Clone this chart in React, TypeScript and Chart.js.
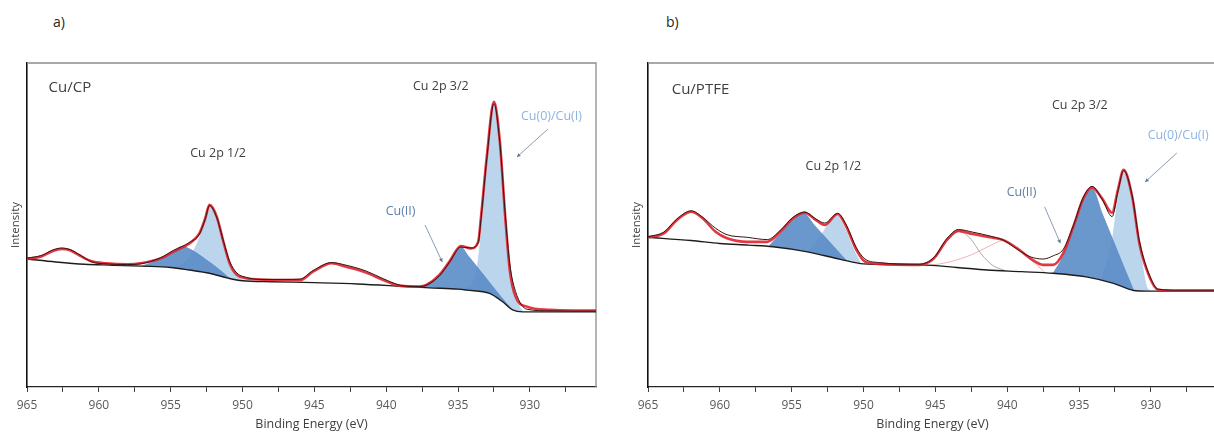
import React, { useEffect, useRef } from "react";
import { Chart, registerables } from "chart.js";

Chart.register(...registerables);

// ---------- axis ----------
const energyMin = 925.4;
const energyMax = 965;
const xTickValues = [965, 962.5, 960, 957.5, 955, 952.5, 950, 947.5, 945, 942.5, 940, 937.5, 935, 932.5, 930, 927.5];
const majorTickStep = 5;

// ---------- panel a: Cu/CP ----------
const cpEnvX = [965, 964, 963.2, 962.6, 962, 961.3, 960.5, 959.5, 958, 957.1, 955.7, 954.8, 953.7, 953.0, 952.6, 952.3, 951.8, 951.3, 950.9, 950.4, 949.7, 948.8, 947, 946, 945.1, 943.8, 942.8, 941.4, 940.2, 939.0, 937.7, 937.2, 936.3, 935.6, 934.8, 934.1, 933.6, 933.4, 933.0, 932.5, 932.1, 931.7, 931.4, 931.0, 930.2, 928.6, 927, 925.4];
const cpEnvelope = [39.5, 40.3, 42.0, 42.6, 42.2, 40.5, 38.8, 38.2, 37.9, 38.2, 39.7, 41.8, 44.3, 47.4, 52.0, 56.2, 52.6, 44.3, 38.2, 34.6, 33.5, 33.2, 33.0, 33.0, 35.6, 38.2, 37.1, 35.3, 33.0, 31.2, 31.0, 31.5, 34.6, 38.7, 43.5, 42.8, 44.8, 52.6, 71.1, 88.0, 76.2, 51.5, 36.1, 27.9, 24.8, 23.8, 23.6, 23.6];
const cpMeasured = [39.8, 40.6, 42.3, 42.9, 42.4, 40.7, 38.6, 38.0, 37.8, 38.0, 39.9, 42.2, 44.6, 47.2, 51.8, 56.0, 52.4, 44.6, 38.8, 35.2, 33.8, 33.2, 33.2, 33.3, 35.9, 38.4, 37.6, 35.8, 33.4, 31.4, 31.0, 31.4, 34.3, 38.5, 43.2, 42.9, 44.5, 52.0, 70.5, 87.5, 75.8, 52.5, 38.0, 29.5, 24.0, 23.5, 23.4, 23.4];
const cpBgX = [965, 963, 961, 959, 957, 955, 953.7, 952.3, 951, 950, 948, 945, 942, 939, 937, 935, 934.4, 932.8, 931.9, 931.2, 930.5, 928, 925.4];
const cpBackground = [39.5, 38.6, 37.9, 37.6, 37.3, 36.9, 36.1, 35.1, 33.6, 32.8, 32.5, 32.2, 31.8, 31.1, 30.6, 30.2, 29.9, 28.9, 26.3, 23.8, 23.2, 23.2, 23.2];
const cpCu2_12X = [957.0, 955.7, 954.8, 954.2, 953.6, 952.6, 951.6, 950.9];
const cpCu2_12 = [37.3, 39.6, 41.8, 43.4, 42.4, 39.5, 36.2, 33.5];
const cpCu0_12X = [954.6, 953.7, 953.0, 952.6, 952.3, 951.8, 951.3, 950.9, 950.4, 949.9];
const cpCu0_12 = [36.6, 40.0, 46.0, 51.5, 55.8, 52.0, 44.0, 37.8, 34.2, 32.8];
const cpCu2_32X = [937.6, 936.3, 935.6, 934.8, 934.3, 933.5, 932.8, 932.0, 931.3];
const cpCu2_32 = [30.7, 34.4, 38.5, 43.2, 40.5, 36.1, 32.2, 27.8, 24.2];
const cpCu0_32X = [934.6, 933.8, 933.4, 933.0, 932.5, 932.1, 931.7, 931.4, 931.0, 930.5];
const cpCu0_32 = [30.0, 34.0, 47.0, 68.0, 87.0, 75.5, 51.0, 36.0, 27.5, 23.2];

// ---------- panel b: Cu/PTFE ----------
const ptEnvX = [965, 963.9, 963.0, 962.0, 961.2, 960.3, 959.5, 958.1, 956.7, 955.8, 954.9, 954.1, 953.3, 952.7, 951.8, 951.2, 950.5, 949.9, 948.9, 946.1, 945.1, 944.2, 943.4, 942.4, 941.2, 940.3, 939.3, 938.4, 937.5, 936.8, 936.1, 935.4, 934.7, 934.1, 933.4, 932.7, 932.3, 931.9, 931.3, 930.8, 930.1, 929.5, 928, 925.4];
const ptEnvelope = [46.2, 47.4, 51.5, 54.1, 52.1, 47.9, 45.9, 44.8, 44.8, 47.9, 52.1, 53.8, 51.5, 50.0, 53.4, 49.5, 42.3, 38.7, 38.0, 37.7, 39.7, 45.4, 48.2, 47.2, 46.2, 45.4, 42.8, 39.7, 37.7, 37.7, 41.3, 49.5, 58.2, 61.6, 58.2, 53.8, 60.8, 67.0, 58.7, 44.3, 34.0, 30.0, 29.7, 29.7];
const ptMeasured = [46.4, 47.8, 51.8, 54.4, 52.4, 49.0, 47.0, 46.2, 45.5, 48.3, 52.4, 54.0, 51.8, 50.6, 53.6, 50.0, 43.0, 39.5, 38.4, 37.9, 40.0, 45.8, 48.6, 47.8, 46.6, 45.4, 42.5, 40.2, 39.5, 40.5, 42.5, 49.8, 58.6, 61.9, 58.0, 52.6, 60.2, 66.8, 59.0, 45.0, 34.5, 30.2, 29.9, 29.9];
const ptBgX = [965, 962, 960, 958, 956.3, 954.0, 951.6, 950.0, 948, 946, 943.5, 941.4, 939, 936.8, 934.5, 932.6, 931.2, 930.3, 928, 925.4];
const ptBackground = [46.2, 45.2, 44.3, 43.8, 43.3, 41.8, 39.4, 38.0, 37.8, 37.7, 36.9, 36.1, 35.6, 35.1, 34.0, 32.0, 29.8, 29.6, 29.6, 29.6];
const ptCu2_12X = [956.6, 955.8, 954.9, 954.2, 953.4, 952.6, 951.8, 951.2];
const ptCu2_12 = [43.4, 47.3, 51.8, 53.6, 49.8, 45.9, 42.0, 39.1];
const ptCu0_12X = [953.9, 953.2, 952.5, 951.9, 951.3, 950.7, 950.2];
const ptCu0_12 = [41.8, 45.0, 50.0, 53.2, 49.0, 42.5, 38.2];
const ptCu2_32X = [936.8, 936.1, 935.4, 934.7, 934.1, 933.4, 932.6, 931.9, 931.2];
const ptCu2_32 = [35.1, 40.5, 49.0, 57.8, 61.2, 53.6, 44.9, 37.3, 29.8];
const ptCu0_32X = [933.4, 932.7, 932.3, 931.9, 931.3, 930.8, 930.3, 930.0];
const ptCu0_32 = [33.5, 45.0, 58.0, 66.6, 58.3, 44.0, 31.0, 29.6];
const ptSat1X = [946.2, 945.1, 944.2, 943.4, 942.6, 941.8, 941.0, 940.2];
const ptSat1 = [37.7, 39.6, 45.0, 48.0, 46.0, 41.0, 37.5, 36.0];
const ptSat2X = [945.6, 944.0, 942.5, 941.2, 940.3, 939.3, 938.4, 937.4];
const ptSat2 = [37.4, 38.6, 40.8, 43.6, 45.2, 42.6, 39.4, 35.5];

// ---------- styles ----------
const FONT = "'Open Sans', 'DejaVu Sans', sans-serif";
const DARK_FILL = "rgba(86,138,197,0.88)";
const LIGHT_FILL = "rgba(180,208,235,0.9)";
const LABEL_GREY = "#404040";
const CU0_TEXT = "#8db4e0";
const CU2_TEXT = "#5b7fa8";
const ARROW = "#8a9cb2";

const pts = (xs: number[], ys: number[]) => xs.map((x, i) => ({ x, y: ys[i] }));

type Note = { text: string; e: number; i: number; color: string; size: number; align: CanvasTextAlign };
type Arrow = { e1: number; i1: number; e2: number; i2: number };

const panelA = {
  env: pts(cpEnvX, cpEnvelope),
  meas: pts(cpEnvX, cpMeasured),
  bg: pts(cpBgX, cpBackground),
  sats: [] as { data: { x: number; y: number }[]; color: string }[],
  dark: [pts(cpCu2_12X, cpCu2_12), pts(cpCu2_32X, cpCu2_32)],
  light: [pts(cpCu0_12X, cpCu0_12), pts(cpCu0_32X, cpCu0_32)],
  notes: [
    { text: "Cu/CP", e: 963.5, i: 92.3, color: LABEL_GREY, size: 15, align: "left" },
    { text: "Cu 2p 1/2", e: 951.7, i: 72.2, color: LABEL_GREY, size: 12.5, align: "center" },
    { text: "Cu 2p 3/2", e: 936.2, i: 92.9, color: LABEL_GREY, size: 12.5, align: "center" },
    { text: "Cu(0)/Cu(I)", e: 928.5, i: 83.6, color: CU0_TEXT, size: 12.5, align: "center" },
    { text: "Cu(II)", e: 939.0, i: 54.3, color: CU2_TEXT, size: 12.5, align: "center" },
  ] as Note[],
  arrows: [
    { e1: 928.75, i1: 79.6, e2: 930.9, i2: 71.0 },
    { e1: 937.3, i1: 50.0, e2: 936.1, i2: 38.6 },
  ] as Arrow[],
};

const panelB = {
  env: pts(ptEnvX, ptEnvelope),
  meas: pts(ptEnvX, ptMeasured),
  bg: pts(ptBgX, ptBackground),
  sats: [
    { data: pts(ptSat1X, ptSat1), color: "rgba(150,150,150,0.8)" },
    { data: pts(ptSat2X, ptSat2), color: "rgba(235,160,160,0.8)" },
  ],
  dark: [pts(ptCu2_12X, ptCu2_12), pts(ptCu2_32X, ptCu2_32)],
  light: [pts(ptCu0_12X, ptCu0_12), pts(ptCu0_32X, ptCu0_32)],
  notes: [
    { text: "Cu/PTFE", e: 963.35, i: 91.7, color: LABEL_GREY, size: 15, align: "left" },
    { text: "Cu 2p 1/2", e: 952.1, i: 68.2, color: LABEL_GREY, size: 12.5, align: "center" },
    { text: "Cu 2p 3/2", e: 934.95, i: 87.0, color: LABEL_GREY, size: 12.5, align: "center" },
    { text: "Cu(0)/Cu(I)", e: 928.1, i: 77.5, color: CU0_TEXT, size: 12.5, align: "center" },
    { text: "Cu(II)", e: 939.0, i: 59.9, color: CU2_TEXT, size: 12.5, align: "center" },
  ] as Note[],
  arrows: [
    { e1: 928.2, i1: 72.2, e2: 930.4, i2: 63.3 },
    { e1: 937.4, i1: 55.6, e2: 936.3, i2: 44.4 },
  ] as Arrow[],
};

type PanelSpec = typeof panelA;

function Panel({ spec, left }: { spec: PanelSpec; left: number }) {
  const ref = useRef<HTMLCanvasElement>(null);
  useEffect(() => {
    const canvas = ref.current!;
    const lineBase = { pointRadius: 0, cubicInterpolationMode: "monotone" as const, tension: 0.4 };
    const datasets: any[] = [
      { ...lineBase, label: "measured", data: spec.meas, borderColor: "#3a1212", borderWidth: 1, fill: false, order: 0 },
      { ...lineBase, label: "envelope", data: spec.env, borderColor: "rgba(222,34,44,0.9)", borderWidth: 2.6, fill: false, order: 1 },
      { ...lineBase, label: "background", data: spec.bg, borderColor: "#1c1c1c", borderWidth: 1.4, fill: false, order: 2 },
    ];
    spec.sats.forEach((s) =>
      datasets.push({ ...lineBase, label: "sat", data: s.data, borderColor: s.color, borderWidth: 1, fill: false, order: 3 })
    );
    spec.dark.forEach((d) =>
      datasets.push({ ...lineBase, label: "Cu(II)", data: d, borderColor: DARK_FILL, backgroundColor: DARK_FILL, borderWidth: 0.8, fill: 2, order: 4 })
    );
    spec.light.forEach((d) =>
      datasets.push({ ...lineBase, label: "Cu(0)/Cu(I)", data: d, borderColor: LIGHT_FILL, backgroundColor: LIGHT_FILL, borderWidth: 0.8, fill: 2, order: 5 })
    );

    const framePlugin = {
      id: "frame",
      beforeDatasetsDraw(chart: any) {
        const { ctx, chartArea } = chart;
        ctx.save();
        ctx.strokeStyle = "#8c8c8c";
        ctx.lineWidth = 1.3;
        ctx.beginPath();
        ctx.moveTo(chartArea.left, chartArea.top);
        ctx.lineTo(chartArea.right, chartArea.top);
        ctx.lineTo(chartArea.right, chartArea.bottom);
        ctx.stroke();
        ctx.restore();
      },
    };

    const notePlugin = {
      id: "notes",
      afterDatasetsDraw(chart: any) {
        const { ctx, scales } = chart;
        const X = (e: number) => scales.x.getPixelForValue(e);
        const Y = (i: number) => scales.y.getPixelForValue(i);
        ctx.save();
        spec.arrows.forEach((a) => {
          const x1 = X(a.e1), y1 = Y(a.i1), x2 = X(a.e2), y2 = Y(a.i2);
          ctx.strokeStyle = ARROW;
          ctx.fillStyle = "#5f7590";
          ctx.lineWidth = 1;
          ctx.beginPath();
          ctx.moveTo(x1, y1);
          ctx.lineTo(x2, y2);
          ctx.stroke();
          const ang = Math.atan2(y2 - y1, x2 - x1);
          const h = 4;
          ctx.beginPath();
          ctx.moveTo(x2, y2);
          ctx.lineTo(x2 - h * Math.cos(ang - 0.5), y2 - h * Math.sin(ang - 0.5));
          ctx.lineTo(x2 - h * Math.cos(ang + 0.5), y2 - h * Math.sin(ang + 0.5));
          ctx.closePath();
          ctx.fill();
        });
        spec.notes.forEach((n) => {
          ctx.font = `${n.size}px ${FONT}`;
          ctx.fillStyle = n.color;
          ctx.textAlign = n.align;
          ctx.textBaseline = "middle";
          ctx.fillText(n.text, X(n.e), Y(n.i));
        });
        ctx.restore();
      },
    };

    const chart = new Chart(canvas, {
      type: "line",
      data: { datasets },
      options: {
        responsive: false,
        animation: false,
        devicePixelRatio: 1,
        layout: { padding: { left: 0, right: 14, top: 63, bottom: 0 } },
        plugins: { legend: { display: false }, tooltip: { enabled: false } },
        scales: {
          x: {
            type: "linear",
            reverse: true,
            min: energyMin,
            max: energyMax,
            afterBuildTicks: (axis: any) => {
              axis.ticks = xTickValues.map((v) => ({ value: v }));
            },
            afterFit: (axis: any) => {
              axis.height = 48;
            },
            ticks: {
              autoSkip: false,
              maxRotation: 0,
              padding: 6,
              color: "#595959",
              font: { family: FONT, size: 12 },
              callback: (v: any) => (Number(v) % majorTickStep === 0 ? String(v) : ""),
            },
            grid: { drawOnChartArea: false, drawTicks: true, tickLength: 5, color: "#404040" },
            border: { display: true, color: "#262626", width: 1.3 },
            title: {
              display: true,
              text: "Binding Energy (eV)",
              color: "#404040",
              font: { family: FONT, size: 12.5 },
              padding: { top: 0, bottom: 3 },
            },
          },
          y: {
            min: 0,
            max: 100,
            afterFit: (axis: any) => {
              axis.width = 27;
            },
            ticks: { display: false },
            grid: { display: false, drawTicks: false },
            border: { display: true, color: "#111111", width: 1.6 },
            title: {
              display: true,
              text: "Intensity",
              color: "#404040",
              font: { family: FONT, size: 11.5 },
              padding: { top: 9, bottom: 0 },
            },
          },
        },
      },
      plugins: [framePlugin, notePlugin],
    } as any);
    return () => chart.destroy();
  }, [spec]);
  return (
    <canvas
      ref={ref}
      width={610}
      height={435}
      style={{ position: "absolute", left, top: 0, width: 610, height: 435 }}
    />
  );
}

export default function App() {
  useEffect(() => {
    document.body.style.margin = "0";
  }, []);
  const panelLabel: React.CSSProperties = {
    position: "absolute",
    top: 12,
    fontFamily: FONT,
    fontSize: 14,
    color: "#262626",
  };
  return (
    <div
      style={{
        position: "fixed",
        left: 0,
        top: 0,
        width: 1214,
        height: 435,
        overflow: "hidden",
        background: "#ffffff",
      }}
    >
      <div style={{ ...panelLabel, left: 53 }}>a)</div>
      <div style={{ ...panelLabel, left: 666 }}>b)</div>
      <Panel spec={panelA} left={0} />
      <Panel spec={panelB} left={621} />
    </div>
  );
}
